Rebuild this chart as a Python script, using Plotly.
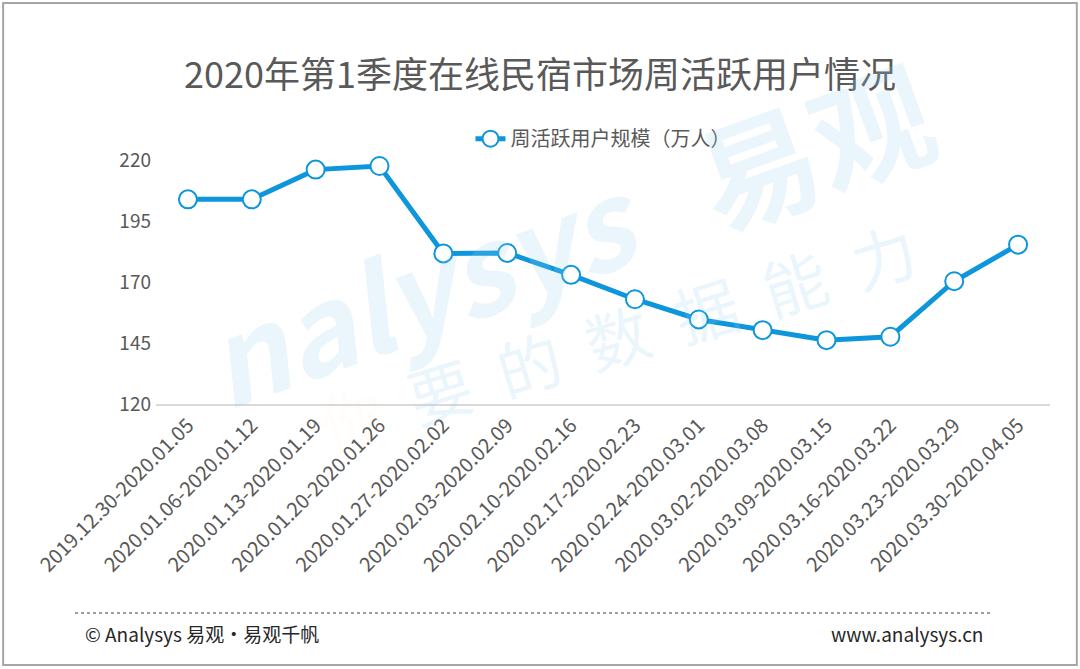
import plotly.graph_objects as go

# weekly periods
weeks = ["2019.12.30-2020.01.05", "2020.01.06-2020.01.12", "2020.01.13-2020.01.19",
         "2020.01.20-2020.01.26", "2020.01.27-2020.02.02", "2020.02.03-2020.02.09",
         "2020.02.10-2020.02.16", "2020.02.17-2020.02.23", "2020.02.24-2020.03.01",
         "2020.03.02-2020.03.08", "2020.03.09-2020.03.15", "2020.03.16-2020.03.22",
         "2020.03.23-2020.03.29", "2020.03.30-2020.04.05"]

# weekly active users (10k)
users = [204.0, 204.0, 216.2, 217.7, 181.8, 182.0, 173.0, 163.0,
         154.7, 150.3, 146.2, 147.6, 170.4, 185.4]

y_ticks = [120, 145, 170, 195, 220]

font = "Noto Sans CJK SC"
blue = "#0e96dc"
grey = "#595959"
mark = "rgba(150,210,240,0.2)"

fig = go.Figure()
fig.add_trace(go.Scatter(
    x=weeks, y=users,
    mode="lines+markers",
    name="周活跃用户规模（万人）",
    line=dict(color=blue, width=5),
    marker=dict(size=18, color="white", line=dict(color=blue, width=2)),
))

fig.update_layout(
    width=1080, height=669,
    margin=dict(l=156, r=30, t=136, b=265, autoexpand=False),
    paper_bgcolor="white", plot_bgcolor="white",
    font=dict(family=font, color=grey),
    title=dict(text="2020年第1季度在线民宿市场周活跃用户情况",
               x=0.5, xanchor="center", y=0.888, yanchor="middle",
               font=dict(size=36, color=grey, family=font)),
    showlegend=True,
    legend=dict(orientation="h", x=0.5, xanchor="center", y=0.99, yanchor="middle",
                font=dict(size=20, color=grey), bgcolor="rgba(0,0,0,0)"),
    xaxis=dict(type="category", tickangle=-45, tickfont=dict(size=20, color=grey),
               showgrid=False, showline=True, linecolor="#d9d9d9", linewidth=1.5,
               ticks="", range=[-0.5, 13.5], automargin=False),
    yaxis=dict(range=[120, 230], tickvals=y_ticks, tickfont=dict(size=19, color=grey),
               showgrid=False, zeroline=False, showline=False, ticks="", automargin=False,
               ticklabelstandoff=4),
)

# watermark
fig.add_annotation(xref="paper", yref="paper", x=0.46, y=0.64, xanchor="center", yanchor="middle",
                   text="<i><b>nalysys</b></i>   <b>易观</b>",
                   showarrow=False, textangle=-20, font=dict(size=120, color=mark))
fig.add_annotation(xref="paper", yref="paper", x=0.516, y=0.257, xanchor="center", yanchor="middle",
                   text="<span style='color:rgba(250,190,130,0.22)'>你</span>  要  的  数  据  能  力",
                   showarrow=False, textangle=-17, font=dict(size=64, color=mark))

# frame
fig.add_shape(type="rect", xref="paper", yref="paper", x0=-0.171, x1=1.030, y0=-0.974, y1=1.496,
              line=dict(color="#a6a6a6", width=2), layer="below")
# dotted separator
fig.add_shape(type="line", xref="paper", yref="paper", x0=-0.0906, x1=0.936, y0=-0.780, y1=-0.780,
              line=dict(color="#7f7f7f", width=1.5, dash="dot"))

fig.add_annotation(xref="paper", yref="paper", x=-0.082, y=-0.858, xanchor="left", yanchor="middle",
                   text="© Analysys 易观·易观千帆", showarrow=False, font=dict(size=19, color="#262626"))
fig.add_annotation(xref="paper", yref="paper", x=0.927, y=-0.858, xanchor="right", yanchor="middle",
                   text="www.analysys.cn", showarrow=False, font=dict(size=19, color="#262626"))

fig.write_html("out.html", config={"displayModeBar": False},
               post_script="document.body.style.margin='0';")
